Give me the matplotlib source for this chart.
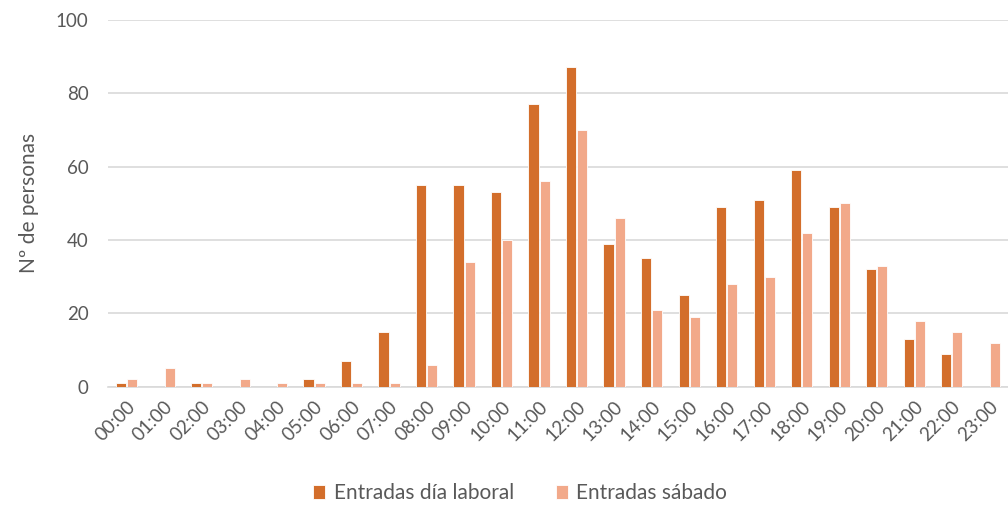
import numpy as np
import matplotlib.pyplot as plt

plt.rcParams['font.family'] = ['Lato', 'DejaVu Sans']

horas = ['%02d:00' % h for h in range(24)]
laboral = [1, 0, 1, 0, 0, 2, 7, 15, 55, 55, 53, 77, 87, 39, 35, 25, 49, 51, 59, 49, 32, 13, 9, 0]
sabado = [2, 5, 1, 2, 1, 1, 1, 1, 6, 34, 40, 56, 70, 46, 21, 19, 28, 30, 42, 50, 33, 18, 15, 12]

gris = '#595959'
fig = plt.figure(figsize=(10.08, 5.07), dpi=100)
ax = fig.add_axes([0.107, 0.237, 0.893, 0.724])

x = np.arange(len(horas))
w = 0.27
ax.bar(x - w / 2 - 0.015, laboral, w, color='#d36e2b', edgecolor='white', linewidth=0.6,
       label='Entradas día laboral', zorder=3)
ax.bar(x + w / 2 + 0.015, sabado, w, color='#f2a98a', edgecolor='white', linewidth=0.6,
       label='Entradas sábado', zorder=3)

ax.set_xlim(-0.5, 23.5)
ax.set_ylim(0, 100)
ax.set_yticks(range(0, 101, 20))
ax.set_xticks(x)
ax.set_xticklabels(horas, rotation=45, ha='right', rotation_mode='anchor')
ax.tick_params(axis='both', length=0, colors=gris, labelsize=13.5)
ax.tick_params(axis='x', pad=8)
ax.tick_params(axis='y', pad=14)
ax.grid(axis='y', color='#d9d9d9', linewidth=1.2, zorder=0)
for s in ['top', 'right', 'left']:
    ax.spines[s].set_visible(False)
ax.spines['bottom'].set_color('#d9d9d9')
ax.spines['bottom'].set_linewidth(1.2)

ax.set_ylabel('Nº de personas', color=gris, fontsize=15, labelpad=12)

fig.legend(loc='center', bbox_to_anchor=(0.516, 0.027), ncol=2, frameon=False,
           fontsize=15, labelcolor=gris, handlelength=0.6, handleheight=0.6,
           handletextpad=0.4, columnspacing=2.0)

fig.savefig('out.png', dpi=100)
